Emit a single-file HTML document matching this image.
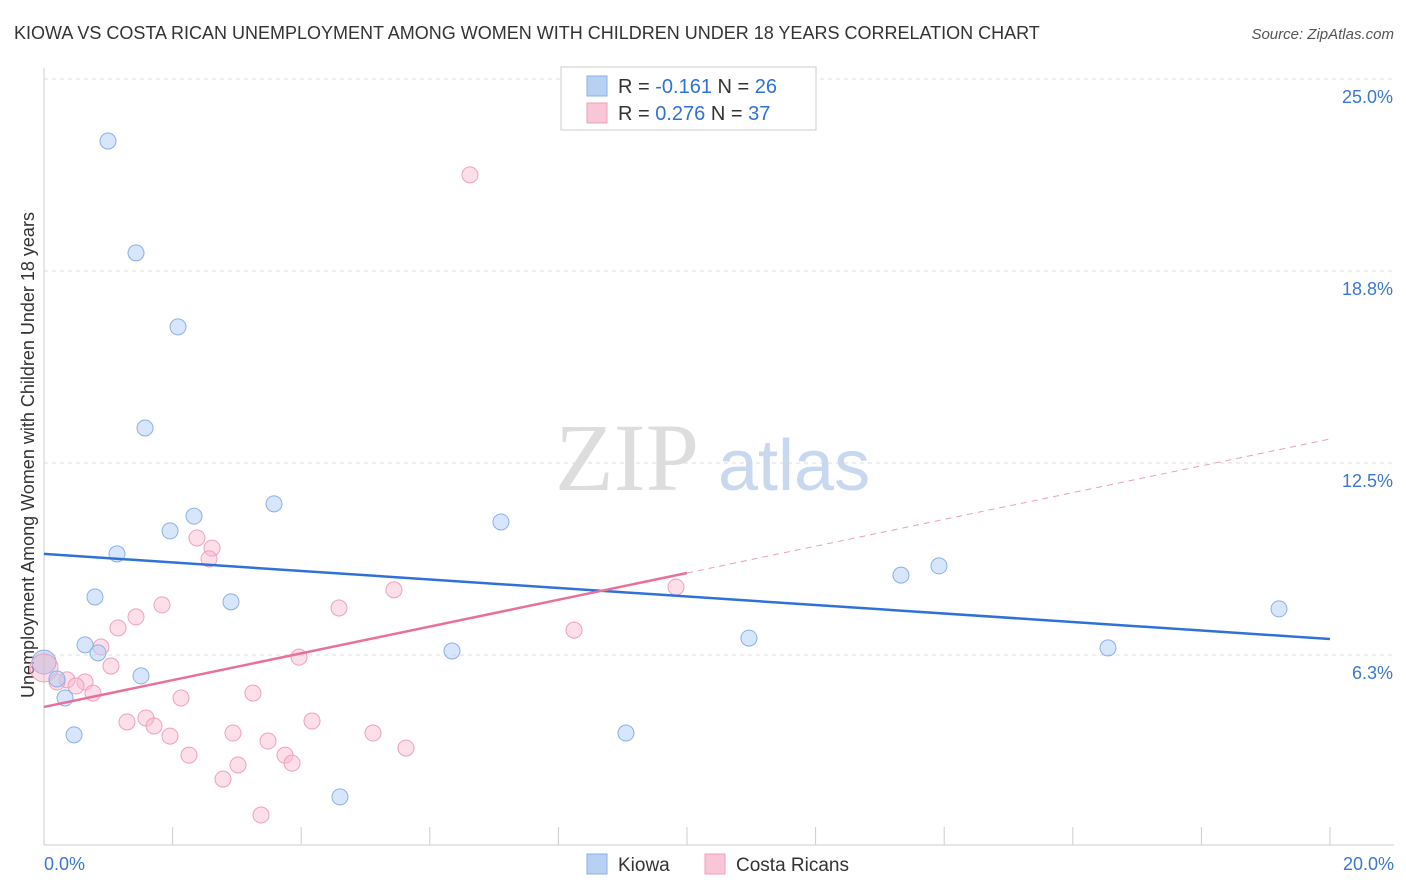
<!DOCTYPE html>
<html><head><meta charset="utf-8"><style>
body{margin:0;background:#fff;font-family:"Liberation Sans",sans-serif}
svg{display:block}
</style></head><body>
<svg id="chart" width="1406" height="892" xmlns="http://www.w3.org/2000/svg">
<text x="14" y="39" font-size="18" fill="#333">KIOWA VS COSTA RICAN UNEMPLOYMENT AMONG WOMEN WITH CHILDREN UNDER 18 YEARS CORRELATION CHART</text>
<text x="1394" y="39" font-size="15" fill="#555" font-style="italic" text-anchor="end">Source: ZipAtlas.com</text>
<text transform="translate(34,455) rotate(-90)" font-size="18" fill="#333" text-anchor="middle">Unemployment Among Women with Children Under 18 years</text>
<g id="grid"></g>
<text x="555" y="490" font-size="96" fill="#ddd" font-family="Liberation Serif,serif">ZIP</text>
<text x="718" y="490" font-size="72" fill="#c8d8ef">atlas</text>
<g id="marks"></g>
<g>
<rect x="561" y="67" width="255" height="63" fill="#fff" stroke="#ccc"/>
<rect x="587" y="76" width="20" height="20" fill="#b8d0f2" stroke="#8ab0e8"/>
<rect x="587" y="103" width="20" height="20" fill="#f8c6d6" stroke="#f0a0bb"/>
<text x="618" y="93" font-size="20" fill="#333">R = <tspan fill="#2f72d6">-0.161</tspan>   N = <tspan fill="#2f72d6">26</tspan></text>
<text x="618" y="120" font-size="20" fill="#333">R = <tspan fill="#2f72d6"> 0.276</tspan>   N = <tspan fill="#2f72d6">37</tspan></text>
</g>
<g>
<rect x="587" y="854" width="20" height="20" fill="#b8d0f2" stroke="#8ab0e8"/>
<text x="618" y="871" font-size="19" fill="#333">Kiowa</text>
<rect x="705" y="854" width="20" height="20" fill="#f8c6d6" stroke="#f0a0bb"/>
<text x="736" y="871" font-size="19" fill="#333">Costa Ricans</text>
</g>
</svg>
<script>
const yTicks=[25,18.75,12.5,6.25];
const yTickLabels=["25.0%","18.8%","12.5%","6.3%"];
const xTickLabels=["0.0%","20.0%"];
const kiowaX=[0.995,1.431,2.084,1.571,2.333,1.96,3.577,1.135,0.793,2.908,0.638,0.84,1.509,0.202,0.327,0.467,4.603,7.107,6.345,9.051,10.964,13.328,13.919,16.547,19.207];
const kiowaY=[22.98,19.34,16.93,13.64,10.77,10.29,11.17,9.54,8.14,7.98,6.58,6.32,5.57,5.47,4.85,3.65,1.63,10.58,6.38,3.71,6.80,8.85,9.15,6.48,7.75];
const costaX=[6.625,2.379,2.613,2.566,1.835,1.431,1.151,0.886,1.042,5.443,4.588,8.243,9.829,3.966,0.638,0.358,0.498,0.762,2.131,3.25,1.291,1.586,1.711,1.96,4.168,2.939,3.484,5.117,5.63,2.255,3.017,3.748,3.857,2.784,3.375,0.202];
const costaY=[21.88,10.06,9.73,9.38,7.88,7.49,7.13,6.51,5.89,8.37,7.78,7.06,8.46,6.18,5.37,5.44,5.24,5.01,4.85,5.01,4.07,4.20,3.94,3.61,4.10,3.71,3.45,3.71,3.22,2.99,2.67,2.99,2.73,2.21,1.04,5.37];
const kiowaBig=[0,6.02];
const costaBig=[0,5.83];
const kiowaTrend=[9.54,6.77];
const costaTrend=[4.56,13.28];
const costaSolidEnd=10;
const NS="http://www.w3.org/2000/svg";
const sx=v=>44+v/20*1286;
const sy=v=>847-v*30.72;
function mk(tag,attrs,parent){const e=document.createElementNS(NS,tag);for(const k in attrs)e.setAttribute(k,attrs[k]);parent.appendChild(e);return e;}
const grid=document.getElementById('grid');
const marks=document.getElementById('marks');
yTicks.forEach((t,i)=>{
 const l=mk('line',{x1:44,x2:1394,y1:sy(t),y2:sy(t),stroke:'#ddd','stroke-dasharray':'4,4'},grid);
 
 
 const tx=mk('text',{x:1393,y:sy(t)+24,'font-size':18,fill:'#3a78d0','text-anchor':'end'},grid);
 tx.textContent=yTickLabels[i];
 
 
});
const ax=mk('line',{x1:44,x2:44,y1:68,y2:845,stroke:'#ccc'},grid);


const bx=mk('line',{x1:44,x2:1394,y1:845,y2:845,stroke:'#ccc'},grid);


for(let i=0;i<=10;i++){
 const t=mk('line',{x1:sx(i*2),x2:sx(i*2),y1:827,y2:845,stroke:'#ccc'},grid);
 
 
}
[[0,'start',44],[20,'end',1394]].forEach((d,i)=>{
 const t=mk('text',{x:d[2],y:870,'font-size':18,fill:'#3a78d0','text-anchor':d[1]},grid);
 t.textContent=xTickLabels[i];
 
 
});
function pts(xs,ys,fill,stroke,name){
 xs.forEach((x,i)=>{
  const c=mk('circle',{cx:sx(x),cy:sy(ys[i]),r:8,fill:fill,stroke:stroke,'stroke-width':1},marks);
  
  
 });
}
const bk=mk('circle',{cx:sx(kiowaBig[0]),cy:sy(kiowaBig[1]),r:12,fill:'rgba(160,195,240,0.5)',stroke:'#8ab0e8'},marks);


const bc=mk('circle',{cx:sx(costaBig[0]),cy:sy(costaBig[1]),r:14,fill:'rgba(245,170,195,0.4)',stroke:'#f0a0bb'},marks);


pts(costaX,costaY,'rgba(248,185,205,0.45)','#f0a0bb','costa-rican-point');
pts(kiowaX,kiowaY,'rgba(175,205,245,0.5)','#8ab0e8','kiowa-point');
const kl=mk('line',{x1:sx(0),y1:sy(kiowaTrend[0]),x2:sx(20),y2:sy(kiowaTrend[1]),stroke:'#2f72d6','stroke-width':2.5},marks);


const cm=costaTrend[0]+(costaTrend[1]-costaTrend[0])*costaSolidEnd/20;
const cl=mk('line',{x1:sx(0),y1:sy(costaTrend[0]),x2:sx(costaSolidEnd),y2:sy(cm),stroke:'#e8709a','stroke-width':2.5},marks);


const cd=mk('line',{x1:sx(costaSolidEnd),y1:sy(cm),x2:sx(20),y2:sy(costaTrend[1]),stroke:'#e8a0b8','stroke-width':1,'stroke-dasharray':'6,5'},marks);


</script>
</body></html>
